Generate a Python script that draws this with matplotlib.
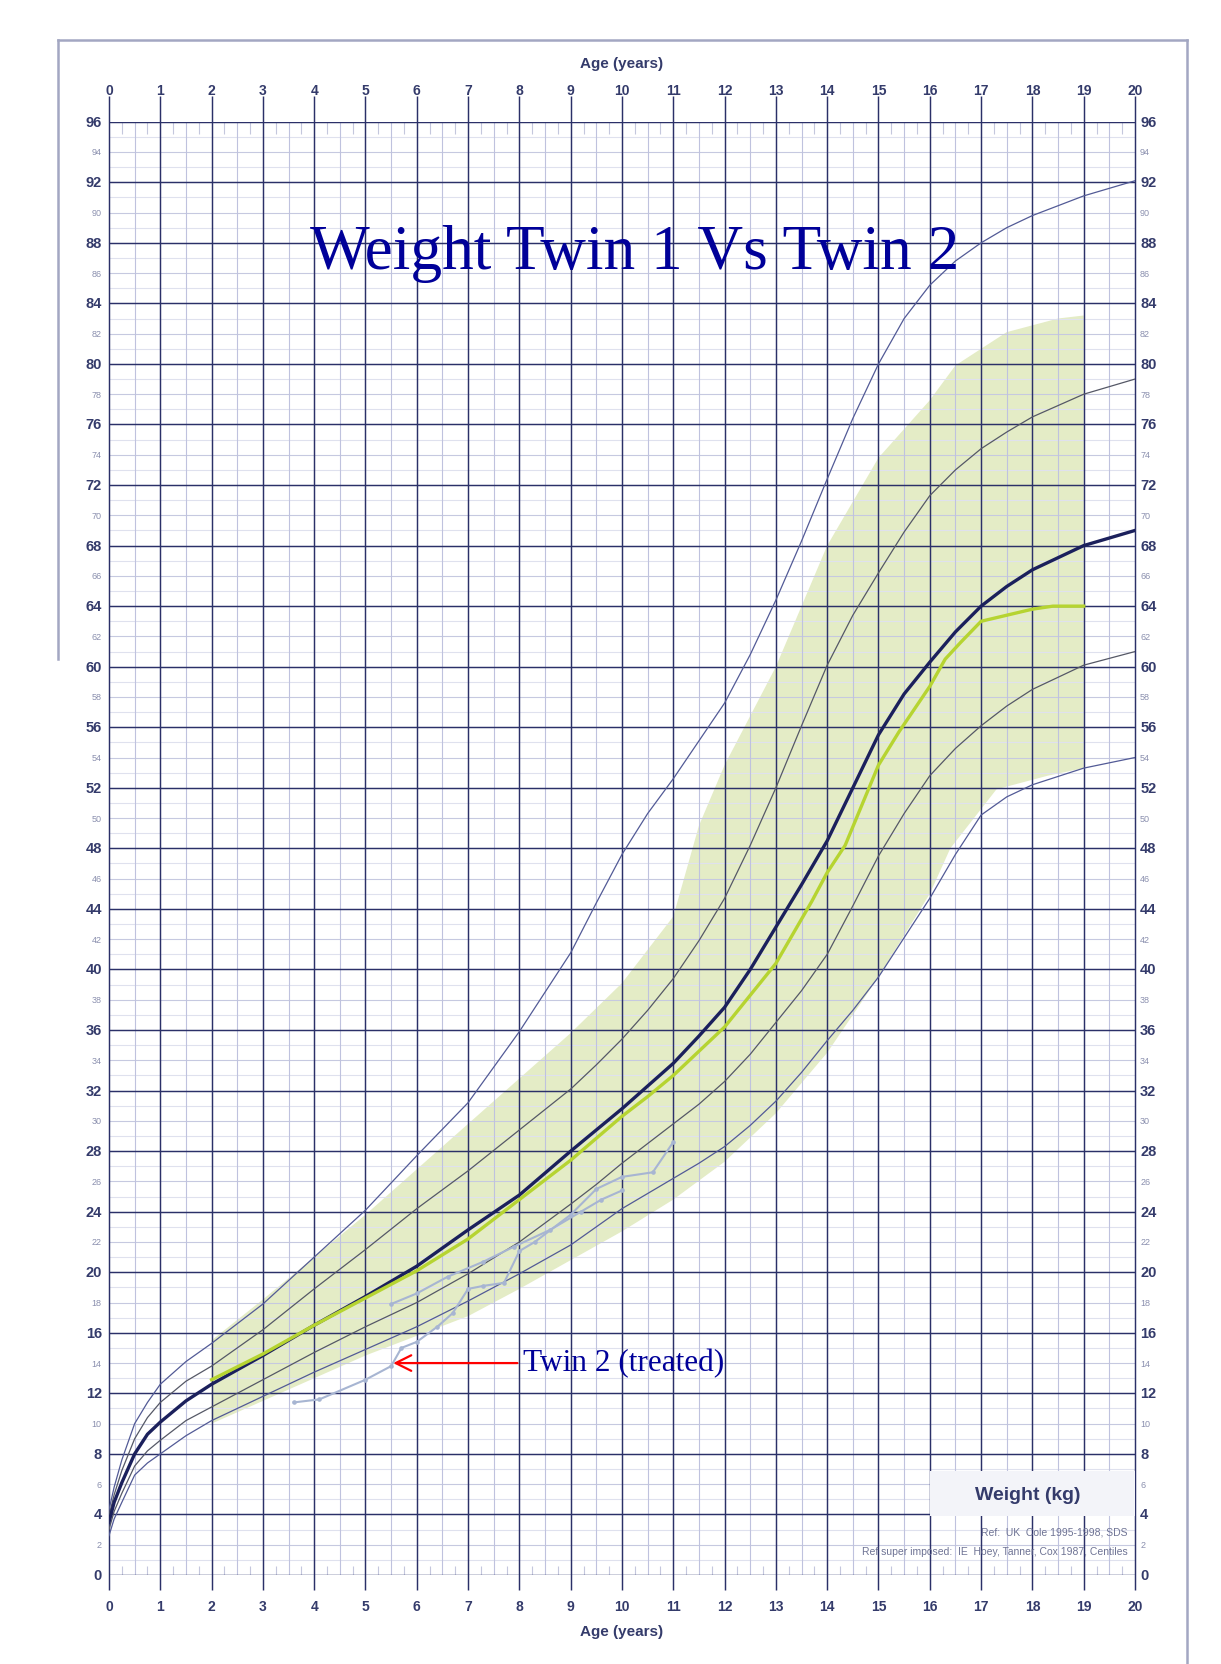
import matplotlib.pyplot as plt
from matplotlib.lines import Line2D
from matplotlib.patches import Rectangle

# reference SDS lines (UK Cole 1995-1998), age in years, weight in kg
ages_ref = [0, 0.1, 0.25, 0.5, 0.75, 1, 1.5, 2, 3, 4, 5, 6, 7, 8, 9, 9.5, 10, 10.5, 11,
            11.5, 12, 12.5, 13, 13.5, 14, 14.5, 15, 15.5, 16, 16.5, 17, 17.5, 18, 19, 20]
sd_plus2 = [4.3, 5.8, 7.6, 10.0, 11.4, 12.6, 14.1, 15.3, 17.9, 21.0, 24.1, 27.7, 31.2,
            35.9, 41.1, 44.4, 47.6, 50.3, 52.6, 55.1, 57.6, 60.8, 64.4, 68.3, 72.4, 76.4,
            80.0, 83.0, 85.2, 86.8, 88.0, 89.0, 89.8, 91.1, 92.1]
sd_plus1 = [3.9, 5.3, 6.9, 9.0, 10.4, 11.4, 12.8, 13.8, 16.2, 18.9, 21.5, 24.2, 26.7,
            29.4, 32.1, 33.7, 35.4, 37.3, 39.4, 41.9, 44.7, 48.2, 52.0, 56.1, 60.1, 63.4,
            66.2, 68.9, 71.3, 73.0, 74.4, 75.5, 76.5, 78.0, 79.0]
median = [3.5, 4.8, 6.1, 8.0, 9.3, 10.1, 11.5, 12.6, 14.5, 16.5, 18.4, 20.4, 22.8,
          25.1, 28.0, 29.4, 30.8, 32.3, 33.8, 35.6, 37.5, 40.0, 42.8, 45.6, 48.5, 52.0,
          55.5, 58.2, 60.3, 62.3, 64.0, 65.3, 66.4, 68.0, 69.0]
sd_minus1 = [3.0, 4.2, 5.4, 7.2, 8.2, 8.9, 10.2, 11.1, 12.9, 14.7, 16.4, 18.0, 19.9,
             22.0, 24.5, 25.8, 27.2, 28.5, 29.8, 31.1, 32.6, 34.4, 36.5, 38.6, 41.0, 44.2,
             47.5, 50.3, 52.8, 54.6, 56.1, 57.4, 58.5, 60.1, 61.0]
sd_minus2 = [2.6, 3.7, 4.8, 6.6, 7.4, 8.0, 9.2, 10.2, 11.8, 13.4, 14.9, 16.4, 18.1,
             19.9, 21.8, 23.0, 24.2, 25.2, 26.2, 27.2, 28.3, 29.7, 31.3, 33.2, 35.3, 37.3,
             39.5, 42.1, 44.7, 47.6, 50.2, 51.4, 52.2, 53.3, 54.0]

# superimposed centile band (Hoey, Tanner, Cox 1987)
band_up_age = [2, 3, 4, 5, 6, 7, 8, 9, 10, 11, 11.5, 12, 13, 14, 15, 16, 16.5, 17.5, 18.5, 19]
band_up = [15.5, 18.2, 21.0, 23.8, 26.8, 29.8, 32.8, 35.8, 39.1, 43.5, 49.5, 53.5, 60.0,
           68.0, 73.8, 77.6, 79.9, 82.1, 83.0, 83.2]
band_lo_age = [19, 18.3, 17.3, 16.4, 16, 15, 14, 13, 12, 11, 10, 9, 8, 7, 6, 5, 4, 3, 2]
band_lo = [53.3, 52.8, 51.9, 48.0, 45.0, 39.5, 34.5, 30.5, 27.3, 24.8, 22.7, 20.8, 18.9,
           17.1, 15.8, 14.5, 13.0, 11.5, 10.0]

# twin 1
twin1_age = [2, 3, 4, 5, 6, 7, 8, 9, 10, 10.5, 11, 12, 13, 13.7, 14, 14.35, 15, 15.4,
             16, 16.3, 16.6, 17, 18, 18.4, 19]
twin1_kg = [12.9, 14.6, 16.5, 18.3, 20.1, 22.2, 24.8, 27.4, 30.3, 31.6, 33.0, 36.2, 40.4,
            44.5, 46.4, 48.2, 53.5, 55.7, 58.7, 60.5, 61.6, 63.0, 63.8, 64.0, 64.0]

# twin 2 (treated), two plotted series
twin2a_age = [3.6, 4.1, 5.0, 5.5, 5.7, 6.0, 6.4, 6.7, 7.0, 7.3, 7.7, 8.0, 8.3, 9.0, 9.5,
              10.0, 10.6, 11.0]
twin2a_kg = [11.4, 11.6, 12.9, 13.8, 15.0, 15.4, 16.4, 17.3, 18.9, 19.1, 19.3, 21.4, 22.0,
             23.8, 25.5, 26.3, 26.6, 28.6]
twin2b_age = [5.5, 6.0, 6.6, 7.3, 7.9, 8.6, 9.2, 9.6, 10.0]
twin2b_kg = [17.9, 18.6, 19.7, 20.7, 21.7, 22.8, 24.0, 24.8, 25.4]

years = list(range(0, 21))
kg_major = list(range(0, 97, 4))
kg_minor = [k for k in range(2, 96, 4)]

navy = '#1b205c'
grid_navy = '#2b3068'
label_col = '#343b6b'

fig = plt.figure(figsize=(12.21, 16.65), dpi=100)
ax = fig.add_axes([0.08927, 0.05345, 0.84029, 0.87285])
ax.set_xlim(0, 20)
ax.set_ylim(0, 96)
ax.axis('off')

# band
band_x = band_up_age + band_lo_age
band_y = band_up + band_lo
ax.fill(band_x, band_y, color='#e4ecc6', lw=0, zorder=1)

# grid
for k in range(0, 97):
    if k % 4 == 0:
        continue
    c = '#c6c9e0' if k % 2 == 0 else '#dfe1ee'
    ax.hlines(k, 0, 20, color=c, lw=0.8, zorder=2)
for h in range(1, 40, 2):
    ax.vlines(h / 2, 0, 96, color='#bfc2de', lw=0.8, zorder=2)
for q in range(1, 80):
    if q % 2 == 0:
        continue
    ax.vlines(q / 4, 95.2, 96, color='#c4c7dd', lw=0.8, zorder=2)
    ax.vlines(q / 4, -0.6, 0.6, color='#c4c7dd', lw=0.8, zorder=2)
for k in kg_major:
    ax.hlines(k, 0, 20, color=grid_navy, lw=1.05, zorder=3)
for yr in years:
    ax.vlines(yr, -1.0, 97.7, color=grid_navy, lw=1.05, zorder=3, clip_on=False)

# reference curves
ax.plot(ages_ref, sd_plus2, color='#525a96', lw=0.9, zorder=4)
ax.plot(ages_ref, sd_plus1, color='#555866', lw=0.9, zorder=4)
ax.plot(ages_ref, sd_minus1, color='#555866', lw=0.9, zorder=4)
ax.plot(ages_ref, sd_minus2, color='#525a96', lw=0.9, zorder=4)
ax.plot(ages_ref, median, color=navy, lw=2.4, zorder=5)

ax.plot(twin2a_age, twin2a_kg, color='#a7b5d2', lw=1.5, marker='o', ms=2.3, zorder=6)
ax.plot(twin2b_age, twin2b_kg, color='#a7b5d2', lw=1.5, marker='o', ms=2.3, zorder=6)
ax.plot(twin1_age, twin1_kg, color='#b6d431', lw=2.4, zorder=6)

# axis labels
for yr in years:
    ax.text(yr, 98.1, str(yr), ha='center', va='center', fontsize=10, fontweight='bold',
            color=label_col, family='Liberation Sans')
    ax.text(yr, -2.05, str(yr), ha='center', va='center', fontsize=10, fontweight='bold',
            color=label_col, family='Liberation Sans')
for k in kg_major:
    ax.text(-0.14, k, str(k), ha='right', va='center', fontsize=10.5, fontweight='bold',
            color=label_col, family='Liberation Sans')
    ax.text(20.1, k, str(k), ha='left', va='center', fontsize=10.5, fontweight='bold',
            color=label_col, family='Liberation Sans')
for k in kg_minor:
    ax.text(-0.14, k, str(k), ha='right', va='center', fontsize=6.5,
            color='#8a8fae', family='Liberation Sans')
    ax.text(20.1, k, str(k), ha='left', va='center', fontsize=6.5,
            color='#8a8fae', family='Liberation Sans')
ax.text(10, 99.9, 'Age (years)', ha='center', va='center', fontsize=11, fontweight='bold',
        color=label_col, family='Liberation Sans')
ax.text(10, -3.7, 'Age (years)', ha='center', va='center', fontsize=11, fontweight='bold',
        color=label_col, family='Liberation Sans')

# title and annotation
ax.text(10.25, 87.3, 'Weight Twin 1 Vs Twin 2', ha='center', va='center', fontsize=45.5,
        color='#000099', family='Liberation Serif', zorder=8)
ax.annotate('Twin 2 (treated)', xy=(5.54, 14.0), xytext=(8.07, 14.0), ha='left', va='center',
            fontsize=22.5, color='#000099', family='Liberation Serif', zorder=8,
            arrowprops=dict(arrowstyle='->', color='red', lw=1.6, mutation_scale=28,
                            shrinkA=2, shrinkB=0))

# weight box and references
ax.add_patch(Rectangle((16.0, 3.9), 4.0, 3.0, facecolor='#f3f4f9', edgecolor='none', zorder=7))
ax.text(17.9, 5.3, 'Weight (kg)', ha='center', va='center', fontsize=14, fontweight='bold',
        color=label_col, family='Liberation Sans', zorder=8)
ax.text(19.85, 2.9, 'Ref:  UK  Cole 1995-1998, SDS', ha='right', va='center', fontsize=7.5,
        color='#6e7394', family='Liberation Sans', zorder=8)
ax.text(19.85, 1.6, 'Ref super imposed:  IE  Hoey, Tanner, Cox 1987, Centiles', ha='right',
        va='center', fontsize=7.5, color='#6e7394', family='Liberation Sans', zorder=8)

# outer frame
frame_col = '#a3a7c2'
fig.add_artist(Line2D([58 / 1221, 1187 / 1221], [1 - 41 / 1665, 1 - 41 / 1665],
                      color=frame_col, lw=1.8))
fig.add_artist(Line2D([1187 / 1221, 1187 / 1221], [1 - 41 / 1665, 0], color=frame_col, lw=1.8))
fig.add_artist(Line2D([58 / 1221, 58 / 1221], [1 - 41 / 1665, 1 - 660 / 1665],
                      color=frame_col, lw=1.8))

fig.savefig('out.png', dpi=100, facecolor='white')
